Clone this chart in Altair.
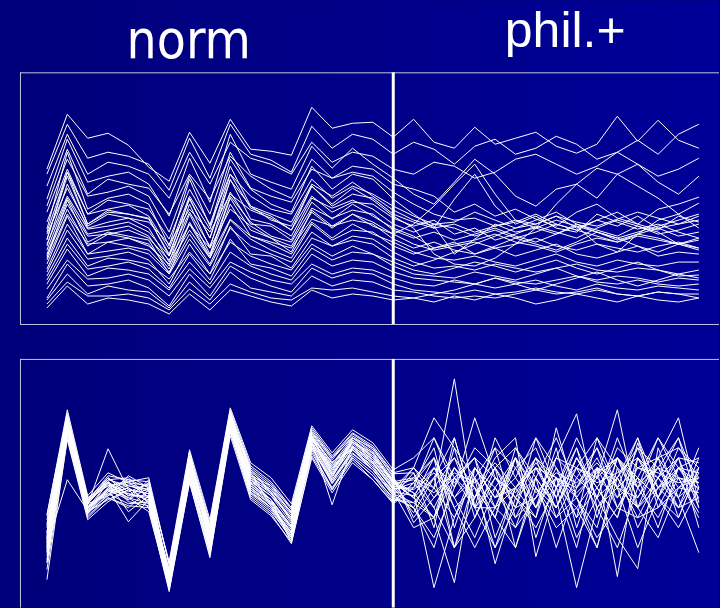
import altair as alt
import pandas as pd

TITLES = ["norm", "phil.+"]
SPLIT = 17  # sample index where the "norm" block ends and "phil.+" begins

# Top panel (raw traces): values for samples 0..17 ("norm") and 18..32 ("phil.+")
TOP_NORM = [
    [155, 210, 186, 191, 179, 157, 143, 192, 161, 205, 175, 173, 169, 217, 196, 201, 202, 187],
    [150, 200, 166, 172, 168, 160, 134, 186, 146, 200, 170, 164, 152, 198, 176, 190, 185, 170],
    [138, 190, 150, 162, 158, 150, 126, 172, 140, 182, 166, 160, 150, 182, 162, 172, 168, 155],
    [125, 185, 142, 148, 152, 140, 108, 166, 122, 190, 150, 142, 135, 178, 156, 176, 160, 146],
    [118, 175, 130, 145, 140, 136, 110, 150, 125, 168, 148, 135, 126, 165, 146, 158, 155, 140],
    [112, 165, 128, 132, 138, 128, 92, 148, 110, 172, 136, 128, 122, 155, 146, 152, 148, 132],
    [95, 172, 115, 126, 130, 120, 78, 145, 98, 165, 135, 120, 112, 158, 135, 150, 145, 125],
    [102, 155, 110, 124, 120, 115, 85, 135, 100, 150, 128, 115, 110, 145, 126, 138, 130, 118],
    [92, 152, 110, 115, 119, 108, 75, 128, 95, 158, 118, 110, 102, 140, 128, 142, 128, 114],
    [85, 148, 100, 114, 110, 105, 70, 125, 86, 144, 118, 104, 98, 138, 118, 130, 126, 110],
    [90, 136, 98, 110, 106, 102, 80, 115, 92, 130, 114, 106, 94, 128, 112, 122, 120, 106],
    [78, 140, 96, 102, 106, 96, 62, 120, 76, 145, 105, 100, 88, 126, 116, 124, 115, 100],
    [80, 128, 95, 98, 102, 92, 68, 112, 78, 132, 100, 98, 84, 122, 105, 120, 108, 96],
    [74, 126, 90, 94, 98, 88, 58, 110, 70, 128, 102, 88, 82, 116, 106, 114, 110, 94],
    [70, 120, 88, 90, 94, 86, 64, 100, 76, 115, 98, 86, 78, 112, 96, 110, 98, 90],
    [68, 115, 78, 90, 86, 80, 55, 100, 66, 120, 88, 82, 76, 105, 98, 104, 100, 85],
    [64, 110, 80, 82, 86, 78, 60, 94, 66, 105, 88, 80, 70, 102, 86, 100, 90, 82],
    [60, 108, 70, 82, 78, 74, 52, 90, 60, 104, 85, 74, 66, 100, 84, 94, 92, 78],
    [55, 100, 70, 73, 76, 70, 50, 85, 58, 96, 78, 70, 62, 92, 78, 88, 85, 72],
    [52, 94, 65, 68, 72, 64, 40, 80, 50, 98, 70, 68, 56, 86, 78, 84, 80, 66],
    [48, 86, 58, 66, 64, 60, 45, 72, 50, 82, 68, 60, 54, 80, 68, 78, 70, 62],
    [44, 80, 55, 58, 62, 55, 36, 70, 44, 85, 60, 56, 48, 76, 64, 72, 70, 58],
    [40, 75, 48, 56, 54, 50, 34, 62, 40, 72, 58, 50, 44, 70, 58, 64, 62, 52],
    [35, 64, 45, 46, 50, 44, 28, 55, 36, 62, 52, 44, 40, 60, 50, 56, 54, 46],
    [26, 60, 38, 40, 44, 36, 18, 50, 28, 58, 46, 38, 32, 56, 46, 52, 50, 40],
    [24, 50, 30, 38, 34, 32, 16, 42, 24, 52, 36, 32, 28, 48, 38, 44, 42, 34],
    [20, 42, 28, 28, 30, 26, 14, 35, 20, 40, 32, 26, 24, 36, 34, 36, 32, 28],
    [16, 38, 20, 26, 24, 20, 10, 30, 14, 34, 28, 22, 18, 34, 26, 30, 28, 24],
    [84, 152, 100, 112, 110, 106, 68, 126, 86, 150, 116, 108, 94, 138, 120, 136, 124, 108],
    [66, 124, 82, 92, 88, 84, 50, 102, 68, 126, 94, 86, 72, 114, 98, 110, 102, 90],
]
TOP_PHIL = [
    [205, 182, 176, 197, 180, 186, 192, 178, 171, 180, 208, 183, 204, 184, 176],
    [182, 175, 160, 178, 185, 170, 176, 188, 180, 165, 172, 184, 170, 190, 200],
    [150, 162, 158, 146, 152, 165, 170, 160, 150, 158, 172, 160, 148, 155, 166],
    [130, 120, 142, 165, 150, 128, 118, 135, 140, 126, 150, 160, 142, 130, 148],
    [135, 128, 112, 120, 108, 115, 105, 98, 112, 120, 106, 100, 115, 120, 127],
    [120, 110, 104, 106, 98, 102, 110, 100, 94, 104, 98, 108, 96, 100, 104],
    [110, 96, 125, 150, 118, 100, 108, 96, 92, 110, 102, 95, 100, 92, 86],
    [108, 100, 102, 112, 104, 96, 100, 108, 102, 98, 105, 112, 106, 100, 108],
    [104, 98, 70, 85, 100, 92, 96, 104, 98, 80, 72, 90, 104, 110, 121],
    [102, 96, 100, 92, 98, 104, 96, 90, 100, 94, 88, 98, 92, 80, 74],
    [98, 104, 90, 96, 84, 90, 98, 92, 86, 96, 104, 98, 90, 94, 100],
    [92, 100, 96, 88, 94, 86, 92, 100, 94, 88, 82, 90, 96, 88, 92],
    [88, 76, 82, 70, 78, 86, 80, 74, 82, 92, 86, 78, 72, 80, 76],
    [86, 92, 84, 90, 96, 88, 82, 90, 98, 92, 84, 90, 86, 80, 84],
    [80, 74, 78, 82, 76, 80, 86, 78, 74, 80, 76, 72, 78, 82, 76],
    [76, 82, 74, 70, 76, 68, 74, 80, 70, 66, 72, 78, 68, 72, 70],
    [72, 66, 64, 68, 62, 58, 64, 70, 62, 58, 64, 60, 58, 62, 62],
    [70, 76, 80, 84, 90, 82, 78, 72, 80, 86, 82, 88, 84, 80, 86],
    [62, 56, 58, 54, 60, 56, 52, 56, 60, 54, 52, 56, 54, 50, 54],
    [58, 64, 72, 80, 88, 96, 104, 112, 100, 92, 86, 92, 98, 104, 110],
    [54, 50, 56, 62, 58, 52, 58, 64, 56, 50, 56, 62, 54, 48, 49],
    [50, 48, 46, 52, 48, 44, 50, 56, 48, 44, 48, 46, 42, 46, 44],
    [46, 44, 42, 40, 46, 42, 40, 44, 48, 42, 40, 44, 40, 38, 40],
    [40, 38, 44, 40, 36, 40, 44, 38, 34, 40, 36, 34, 38, 36, 34],
    [34, 32, 30, 34, 30, 32, 36, 32, 30, 34, 30, 28, 32, 30, 30],
    [32, 28, 26, 28, 26, 30, 34, 30, 32, 36, 30, 28, 32, 30, 26],
    [26, 30, 34, 40, 46, 40, 34, 40, 46, 52, 44, 38, 44, 50, 46],
    [26, 22, 28, 24, 30, 26, 20, 24, 30, 26, 22, 28, 24, 22, 26],
    [96, 70, 60, 58, 66, 80, 96, 120, 140, 156, 150, 138, 126, 110, 96],
    [100, 118, 140, 160, 130, 104, 100, 108, 96, 104, 112, 100, 94, 108, 102],
]

# Bottom panel (normalised traces)
BOT_NORM = [
    [70, 190, 108, 130, 112, 125, 30, 150, 78, 192, 138, 115, 90, 172, 145, 165, 155, 126],
    [60, 178, 95, 112, 120, 105, 25, 132, 62, 180, 118, 100, 72, 160, 128, 155, 138, 112],
    [75, 188, 104, 128, 130, 110, 38, 148, 82, 196, 132, 122, 95, 176, 150, 170, 160, 130],
    [45, 172, 92, 110, 100, 118, 22, 128, 55, 175, 112, 96, 70, 155, 120, 150, 132, 110],
    [88, 195, 110, 122, 126, 130, 42, 155, 85, 198, 142, 126, 100, 180, 152, 175, 162, 135],
    [65, 180, 100, 125, 96, 112, 28, 138, 68, 183, 120, 105, 78, 162, 125, 158, 140, 116],
    [38, 168, 88, 106, 118, 100, 18, 125, 52, 172, 108, 92, 66, 150, 115, 145, 128, 105],
    [92, 198, 112, 135, 125, 122, 46, 158, 88, 200, 145, 130, 104, 182, 155, 178, 165, 138],
    [55, 182, 98, 118, 108, 128, 26, 140, 72, 185, 125, 108, 80, 165, 138, 161, 148, 120],
    [68, 186, 102, 114, 104, 106, 32, 136, 60, 188, 130, 118, 92, 170, 132, 166, 150, 124],
    [80, 190, 106, 128, 122, 116, 34, 146, 76, 190, 135, 102, 76, 172, 142, 160, 144, 118],
    [45, 175, 94, 120, 110, 96, 20, 130, 64, 178, 115, 100, 75, 158, 118, 152, 135, 108],
    [62, 128, 97, 118, 114, 110, 26, 138, 67, 184, 122, 108, 81, 166, 134, 160, 144, 119],
    [72, 187, 103, 159, 118, 114, 32, 156, 72, 189, 128, 112, 84, 170, 138, 166, 148, 122],
    [58, 184, 99, 119, 86, 108, 24, 138, 55, 185, 124, 108, 65, 166, 103, 162, 145, 119],
    [84, 192, 104, 112, 132, 120, 36, 152, 80, 194, 140, 124, 98, 175, 148, 172, 158, 132],
    [48, 176, 96, 126, 106, 102, 21, 130, 58, 180, 114, 98, 68, 160, 124, 150, 132, 106],
    [66, 185, 100, 116, 124, 118, 30, 144, 74, 187, 130, 114, 88, 168, 142, 168, 152, 125],
    [93, 193, 107, 132, 128, 126, 44, 152, 82, 196, 138, 122, 100, 178, 150, 174, 160, 134],
    [28, 170, 90, 110, 102, 100, 16, 126, 50, 176, 110, 94, 64, 152, 118, 148, 128, 104],
    [70, 183, 106, 124, 114, 108, 32, 144, 66, 186, 132, 116, 86, 170, 146, 158, 138, 114],
    [60, 181, 96, 108, 118, 114, 28, 134, 74, 182, 118, 104, 74, 164, 130, 166, 152, 126],
    [76, 188, 110, 126, 108, 120, 34, 148, 78, 191, 136, 120, 94, 174, 144, 170, 156, 128],
    [52, 176, 94, 114, 120, 106, 23, 132, 60, 180, 116, 100, 70, 160, 126, 154, 138, 112],
    [64, 185, 104, 130, 116, 124, 29, 146, 74, 188, 128, 108, 82, 168, 140, 162, 146, 118],
    [82, 190, 100, 118, 126, 110, 38, 140, 68, 193, 134, 118, 96, 172, 134, 168, 150, 128],
    [56, 180, 108, 122, 110, 104, 27, 136, 70, 182, 120, 102, 72, 164, 128, 158, 142, 114],
    [68, 186, 96, 116, 122, 118, 31, 150, 76, 188, 126, 112, 90, 168, 140, 164, 148, 122],
    [74, 188, 104, 126, 112, 112, 33, 142, 64, 190, 122, 106, 80, 170, 136, 170, 154, 124],
    [62, 182, 100, 120, 128, 120, 29, 136, 72, 184, 128, 116, 88, 166, 132, 160, 140, 116],
]
BOT_PHIL = [
    [110, 150, 60, 130, 90, 150, 100, 160, 80, 140, 120, 170, 100, 140, 118],
    [135, 80, 170, 100, 60, 120, 150, 90, 130, 110, 70, 39, 160, 110, 130],
    [90, 120, 229, 100, 100, 80, 140, 110, 160, 90, 150, 100, 130, 170, 120],
    [100, 60, 130, 150, 70, 120, 90, 180, 110, 60, 130, 100, 150, 90, 140],
    [140, 190, 160, 90, 140, 60, 120, 100, 150, 120, 90, 165, 110, 150, 100],
    [80, 90, 25, 140, 110, 150, 70, 130, 90, 170, 140, 80, 120, 100, 150],
    [125, 100, 140, 110, 160, 90, 130, 60, 120, 160, 100, 130, 80, 140, 110],
    [150, 170, 120, 190, 130, 100, 170, 140, 110, 80, 150, 120, 170, 130, 90],
    [95, 130, 60, 110, 150, 170, 51, 120, 60, 140, 100, 90, 130, 150, 80],
    [115, 20, 90, 130, 100, 140, 160, 110, 20, 100, 130, 160, 110, 90, 140],
    [130, 150, 110, 70, 120, 90, 110, 150, 194, 100, 60, 120, 140, 110, 160],
    [105, 90, 160, 130, 44, 110, 130, 100, 140, 170, 120, 100, 70, 120, 130],
    [120, 140, 100, 60, 100, 150, 120, 80, 100, 130, 150, 110, 140, 170, 100],
    [100, 70, 120, 160, 140, 110, 80, 120, 160, 110, 130, 90, 100, 120, 140],
    [140, 110, 130, 100, 170, 130, 100, 140, 90, 120, 150, 130, 110, 80, 120],
    [85, 110, 140, 120, 90, 60, 130, 170, 120, 140, 31, 150, 130, 110, 55],
    [125, 160, 80, 140, 110, 120, 140, 100, 150, 110, 170, 120, 90, 130, 125],
    [110, 130, 150, 120, 60, 100, 110, 130, 120, 150, 110, 160, 140, 100, 135],
    [135, 100, 60, 90, 130, 110, 150, 120, 170, 130, 198, 100, 120, 150, 145],
    [120, 170, 130, 110, 140, 160, 120, 90, 110, 70, 100, 140, 150, 190, 105],
    [105, 130, 170, 100, 120, 80, 110, 150, 130, 160, 120, 60, 110, 140, 125],
    [130, 120, 90, 140, 110, 130, 170, 120, 100, 60, 140, 120, 150, 120, 115],
    [115, 90, 130, 150, 100, 120, 140, 110, 150, 120, 90, 150, 110, 160, 130],
    [100, 140, 110, 130, 160, 140, 100, 130, 70, 110, 160, 140, 130, 100, 110],
    [125, 150, 100, 120, 90, 160, 130, 100, 140, 130, 110, 130, 170, 140, 150],
    [110, 90, 140, 110, 140, 100, 150, 130, 110, 140, 130, 170, 120, 130, 95],
    [140, 120, 150, 100, 130, 110, 90, 150, 140, 100, 120, 110, 150, 160, 140],
    [118, 135, 110, 140, 120, 150, 115, 135, 125, 145, 120, 140, 135, 125, 130],
    [128, 115, 135, 125, 145, 120, 140, 130, 115, 135, 150, 125, 140, 130, 120],
    [112, 140, 125, 150, 130, 115, 145, 120, 140, 125, 135, 150, 120, 140, 135],
]


def to_long(left, right):
    rows = []
    for k, (a, b) in enumerate(zip(left, right)):
        for i, v in enumerate(list(a) + list(b)):
            rows.append({"trace": k, "i": i, "v": v})
    return pd.DataFrame(rows)


top_df = to_long(TOP_NORM, TOP_PHIL)
bot_df = to_long(BOT_NORM, BOT_PHIL)

# layout (pixels): one view holding both panels, 20px left margin, 72px top margin
W = 700
TOP_H = 252
GAP = 35
BOT_H = 249
BOT_Y0 = TOP_H + GAP           # top edge of lower panel
TOTAL_H = BOT_Y0 + BOT_H       # 536
BORDER = "#c4c4e4"
xs = alt.Scale(domain=[-1.3235, 32.99], nice=False, zero=False)
one = pd.DataFrame({"a": [0]})

grad = alt.LinearGradient(
    gradient="linear",
    stops=[alt.GradientStop(color="#00007a", offset=0), alt.GradientStop(color="#000098", offset=1)],
    x1=0, x2=1, y1=0, y2=0,
)
bg = alt.Chart(one).mark_rect(fill=grad).encode(
    x=alt.value(-20), x2=alt.value(W), y=alt.value(-72), y2=alt.value(TOTAL_H)
)

t_norm = alt.Chart(pd.DataFrame({"t": [TITLES[0]]})).mark_text(
    font="Liberation Sans Narrow, DejaVu Sans Condensed, Liberation Sans, sans-serif",
    fontSize=53, color="white", align="center", baseline="alphabetic"
).encode(text="t:N", x=alt.value(169), y=alt.value(-14))
t_phil = alt.Chart(pd.DataFrame({"t": [TITLES[1]]})).mark_text(
    font="Liberation Sans, Arial, sans-serif", fontSize=50, color="white",
    align="center", baseline="alphabetic"
).encode(text="t:N", x=alt.value(546), y=alt.value(-25))


def hrule(y):
    return alt.Chart(one).mark_rule(color=BORDER, strokeWidth=1).encode(
        x=alt.value(0), x2=alt.value(W), y=alt.value(y)
    )


def vrule(y0, y1):
    return alt.Chart(one).mark_rule(color=BORDER, strokeWidth=1).encode(
        x=alt.value(0.5), y=alt.value(y0), y2=alt.value(y1)
    )


top_lines = alt.Chart(top_df).mark_line(color="white", strokeWidth=1).encode(
    x=alt.X("i:Q", scale=xs, axis=None),
    y=alt.Y("v:Q", scale=alt.Scale(domain=[0, TOP_H], range=[TOP_H, 0], nice=False, zero=False), axis=None),
    detail="trace:N",
)
bot_lines = alt.Chart(bot_df).mark_line(color="white", strokeWidth=1).encode(
    x=alt.X("i:Q", scale=xs, axis=None),
    y=alt.Y("v:Q", scale=alt.Scale(domain=[0, BOT_H], range=[TOTAL_H, BOT_Y0], nice=False, zero=False), axis=None),
    detail="trace:N",
)

sep_df = pd.DataFrame({"i": [SPLIT]})
sep_top = alt.Chart(sep_df).mark_rule(color="white", strokeWidth=3).encode(
    x=alt.X("i:Q", scale=xs, axis=None), y=alt.value(0), y2=alt.value(TOP_H)
)
sep_bot = alt.Chart(sep_df).mark_rule(color="white", strokeWidth=3).encode(
    x=alt.X("i:Q", scale=xs, axis=None), y=alt.value(BOT_Y0), y2=alt.value(TOTAL_H)
)

chart = alt.layer(
    bg, t_norm, t_phil,
    hrule(0.5), hrule(TOP_H + 0.5), vrule(0, TOP_H + 0.5),
    hrule(BOT_Y0 + 0.5), vrule(BOT_Y0, TOTAL_H),
    top_lines, bot_lines, sep_top, sep_bot,
).resolve_scale(y="independent").properties(
    width=W, height=TOTAL_H,
    padding=0,
    autosize=alt.AutoSizeParams(type="pad"),
    background="#00007a",
).configure_view(stroke=None)

chart.save("out.html", embed_options={"renderer": "svg", "actions": False})
